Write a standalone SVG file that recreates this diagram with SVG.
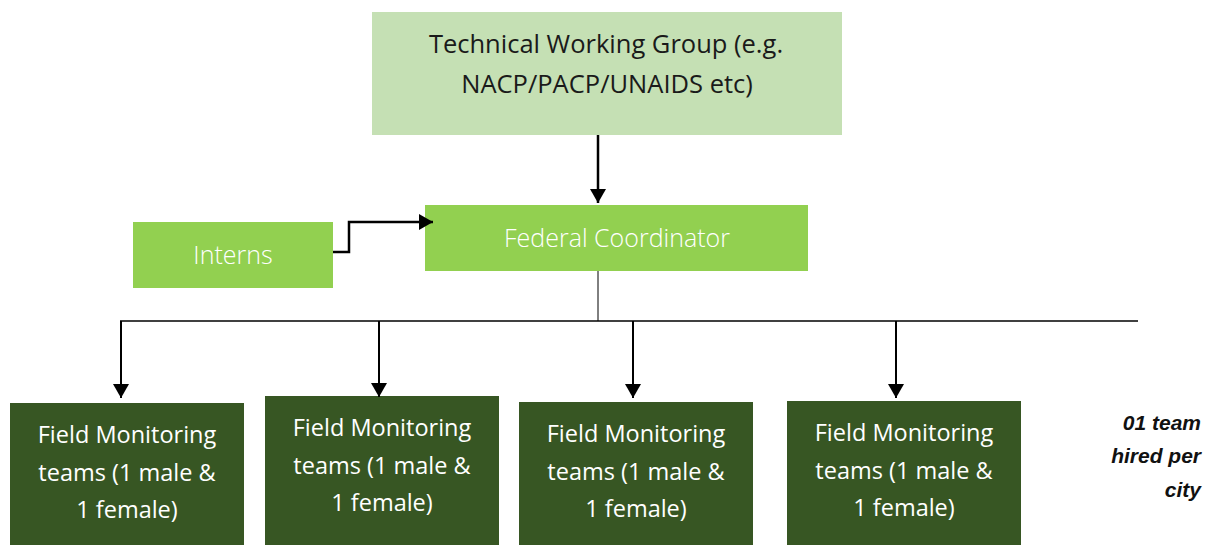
<svg xmlns="http://www.w3.org/2000/svg" width="1212" height="546" viewBox="0 0 1212 546">
<style>
text{font-family:"Open Sans","Noto Sans","Liberation Sans",sans-serif;text-anchor:middle}
.lbl{font-size:23.5px;fill:#ffffff}
.lt{font-size:25px;fill:#ffffff;font-weight:300}
.top{font-size:25.5px;fill:#1a1a1a}
.note{font-family:"Liberation Sans",Arial,sans-serif;font-size:21px;font-weight:bold;font-style:italic;fill:#111;text-anchor:end}
.con{stroke:#000;fill:none}
</style>
<defs>
<marker id="ah" markerWidth="14" markerHeight="16" refX="14" refY="8" orient="auto" markerUnits="userSpaceOnUse">
<path d="M0,0 L14,8 L0,16 Z" fill="#000"/>
</marker>
</defs>
<g id="twg">
<rect x="372" y="12" width="470" height="123" fill="#c5e0b4"/>
<text class="top" x="606" y="53">Technical Working Group (e.g.</text>
<text class="top" x="607" y="93">NACP/PACP/UNAIDS etc)</text>
</g>
<g id="federal">
<rect x="425" y="205" width="383" height="66" fill="#92d050"/>
<text class="lt" x="617" y="247">Federal Coordinator</text>
</g>
<g id="interns">
<rect x="133" y="222" width="200" height="66" fill="#92d050"/>
<text class="lt" x="233" y="264">Interns</text>
</g>
<g id="fmt1">
<rect x="10" y="403" width="234" height="142" fill="#375623"/>
<text class="lbl" x="127" y="443">Field Monitoring</text>
<text class="lbl" x="127" y="481">teams (1 male &amp;</text>
<text class="lbl" x="127" y="518">1 female)</text>
</g>
<g id="fmt2">
<rect x="265" y="396" width="234" height="149" fill="#375623"/>
<text class="lbl" x="382" y="436">Field Monitoring</text>
<text class="lbl" x="382" y="474">teams (1 male &amp;</text>
<text class="lbl" x="382" y="511">1 female)</text>
</g>
<g id="fmt3">
<rect x="519" y="402" width="234" height="143" fill="#375623"/>
<text class="lbl" x="636" y="442">Field Monitoring</text>
<text class="lbl" x="636" y="480">teams (1 male &amp;</text>
<text class="lbl" x="636" y="517">1 female)</text>
</g>
<g id="fmt4">
<rect x="787" y="401" width="234" height="144" fill="#375623"/>
<text class="lbl" x="904" y="441">Field Monitoring</text>
<text class="lbl" x="904" y="479">teams (1 male &amp;</text>
<text class="lbl" x="904" y="516">1 female)</text>
</g>
<g id="note">
<text class="note" x="1201" y="430">01 team</text>
<text class="note" x="1201" y="463">hired per</text>
<text class="note" x="1201" y="497">city</text>
</g>
<g id="connectors">
<path class="con" stroke-width="2.5" d="M598,135 V203" marker-end="url(#ah)"/>
<path class="con" stroke-width="2.5" d="M333,252 H349 V222 H433" marker-end="url(#ah)"/>
<path class="con" stroke-width="1" d="M598,271 V321"/>
<path class="con" stroke-width="1.5" d="M120,321 H1138"/>
<path class="con" stroke-width="2" d="M121,321 V398" marker-end="url(#ah)"/>
<path class="con" stroke-width="2" d="M379,321 V397" marker-end="url(#ah)"/>
<path class="con" stroke-width="2" d="M633,321 V398" marker-end="url(#ah)"/>
<path class="con" stroke-width="2" d="M896,321 V398" marker-end="url(#ah)"/>
</g>
</svg>
